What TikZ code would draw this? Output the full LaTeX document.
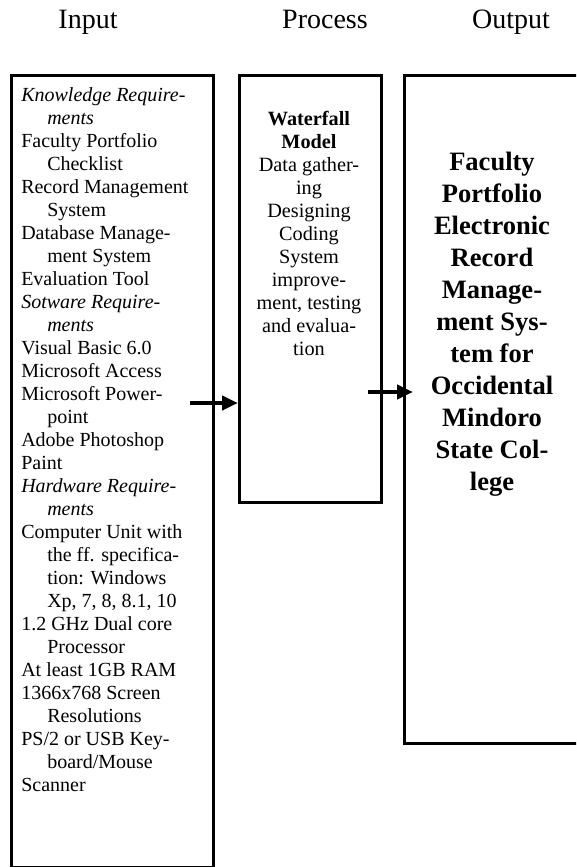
\documentclass[tikz,border=0pt]{standalone}
\usepackage{fontspec}
\setmainfont{Liberation Serif}
\usetikzlibrary{arrows.meta, positioning, calc}
\tikzset{
  colbox/.style={
    rectangle, draw=black, fill=white, line width=2.1pt,
    anchor=north west, inner sep=0pt
  },
  heading/.style={font=\fontsize{21}{25}\selectfont, anchor=base},
  listtext/.style={font=\fontsize{15}{17.25}\selectfont, align=left, inner sep=0pt},
  steptext/.style={font=\fontsize{15.2}{17.25}\selectfont, align=center, inner sep=0pt},
  resulttext/.style={font=\fontsize{19.9}{24}\selectfont\bfseries, align=center, inner sep=0pt},
  arrow/.style={-{Triangle[length=12pt,width=10.5pt]}, line width=3.3pt},
}
\newcommand{\ind}{\hspace*{19.5pt}}

\begin{document}
\begin{tikzpicture}[x=0.75pt, y=-0.75pt]
  \useasboundingbox (0,0) rectangle (576,867);
  \clip (0,0) rectangle (576,867);

  % the three columns
  \node[colbox, minimum width=151.5pt, minimum height=594pt] (inbox) at (10,74) {};
  \node[colbox, minimum width=106.5pt, minimum height=320.25pt] (procbox) at (238,74) {};
  \node[colbox, minimum width=133.5pt, minimum height=501pt] (outbox) at (403,74) {};

  \node[heading] (inhead) at (88,29) {Input};
  \node[heading] (prochead) at (325,29) {Process};
  \node[heading] (outhead) at (511,29) {Output};

  \node[listtext, anchor=north west] (inlist) at (21,87)
    {\textit{Knowledge Require-}\\\ind\textit{ments}\\
     Faculty Portfolio\\\ind Checklist\\
     Record Management\\\ind System\\
     Database Manage-\\\ind ment System\\
     Evaluation Tool\\
     \textit{Sotware Require-}\\\ind\textit{ments}\\
     Visual Basic 6.0\\
     Microsoft Access\\
     Microsoft Power-\\\ind point\\
     Adobe Photoshop\\
     Paint\\
     \textit{Hardware Require-}\\\ind\textit{ments}\\
     Computer Unit with\\\ind the ff. specifica-\\\ind tion: Windows\\\ind Xp, 7, 8, 8.1, 10\\
     1.2 GHz Dual core\\\ind Processor\\
     At least 1GB RAM\\
     1366x768 Screen\\\ind Resolutions\\
     PS/2 or USB Key-\\\ind board/Mouse\\
     Scanner};

  \node[steptext, anchor=north] (proclist) at (309,111)
    {\textbf{Waterfall}\\\textbf{Model}\\Data gather-\\ing\\Designing\\Coding\\System\\
     improve-\\ment, testing\\and evalua-\\tion};

  \node[resulttext, anchor=north] (outname) at (492,152)
    {Faculty\\Portfolio\\Electronic\\Record\\Manage-\\ment Sys-\\tem for\\Occidental\\Mindoro\\State Col-\\lege};

  % flow arrows
  \coordinate (in2proc) at (190,403);
  \coordinate (proc2out) at (368,392);
  \draw[arrow] (in2proc) -- (in2proc -| procbox.west);
  \draw[arrow] (proc2out) -- ($(proc2out -| outbox.west)+(10,0)$);
\end{tikzpicture}
\end{document}
